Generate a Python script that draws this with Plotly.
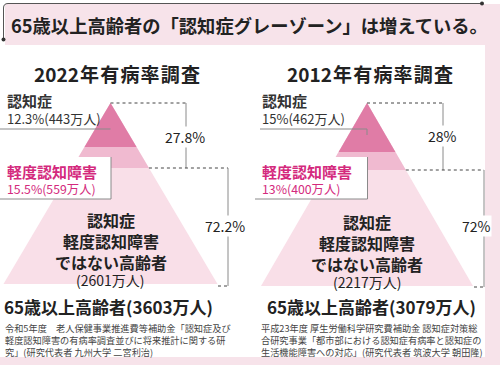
import plotly.graph_objects as go

# ---------------- data ----------------
title_text = "65歳以上高齢者の「認知症グレーゾーン」は増えている。"
survey_years = ["2022", "2012"]
dementia_pct = ["12.3%", "15%"]
dementia_n = [443, 462]
mci_pct = ["15.5%", "13%"]
mci_n = [559, 400]
normal_n = [2601, 2217]
total_n = [3603, 3079]
gray_pct = ["27.8%", "28%"]
normal_pct = ["72.2%", "72%"]
sources = [
    ["令和5年度　老人保健事業推進費等補助金「認知症及び",
     "軽度認知障害の有病率調査並びに将来推計に関する研",
     "究」(研究代表者 九州大学 二宮利治)"],
    ["平成23年度 厚生労働科学研究費補助金 認知症対策総",
     "合研究事業「都市部における認知症有病率と認知症の",
     "生活機能障害への対応」(研究代表者 筑波大学 朝田隆)"],
]

# ---------------- layout constants ----------------
W, H = 500, 365
FONT = "Noto Sans CJK JP"
PINK_BG = "#f7e3ea"
C_DARK = "#e07ca6"
C_MID = "#f0bad0"
C_LIGHT = "#f9dfe8"
MAGENTA = "#d42a7d"
LINE = "#8a8a8a"
HS = "\u200a"

panels = [
    dict(cx=110.5, apex=103, b1=147, b2=168, base=284, hw=107, bx=186, bx2=228, lx=5,
         head_x=117, tot_x=108, dot2=286, p1y=137, p2x=225, cy=0),
    dict(cx=367, apex=103, b1=152, b2=170, base=286, hw=106, bx=443, bx2=484, lx=260,
         head_x=370, tot_x=371, dot2=287, p1y=136, p2x=476, cy=2),
]

shapes = []
annotations = []

def rect(x0, y0, x1, y1, color):
    shapes.append(dict(type="rect", x0=x0, y0=y0, x1=x1, y1=y1, xref="x", yref="y",
                       fillcolor=color, line=dict(width=0), layer="below"))

def line(x0, y0, x1, y1, color=LINE, dash="solid", width=1):
    shapes.append(dict(type="line", x0=x0, y0=y0, x1=x1, y1=y1, xref="x", yref="y",
                       line=dict(color=color, width=width, dash=dash)))

def text(x, y, s, size, color="#222", xanchor="center", bg=None, bold=False, align="center"):
    a = dict(x=x, y=y, xref="x", yref="y", text=("<b>%s</b>" % s) if bold else s,
             showarrow=False, xanchor=xanchor, yanchor="middle", align=align,
             font=dict(family=FONT, size=size, color=color))
    if bg:
        a["bgcolor"] = bg
        a["borderpad"] = 0
    annotations.append(a)

# backgrounds
rect(5, 4, W, 45, PINK_BG)
rect(485, 45, W, H, PINK_BG)
rect(0, 357, W, H, PINK_BG)

# title frame
shapes.append(dict(type="path", path="M 3.5,39 L 3.5,8 Q 3.5,3.5 8,3.5 L 482,3.5",
                   xref="x", yref="y", line=dict(color="#555", width=1)))
for (dx, dy) in [(3.5, 39.5), (482, 3.5)]:
    shapes.append(dict(type="circle", x0=dx - 2, y0=dy - 2, x1=dx + 2, y1=dy + 2,
                       xref="x", yref="y", fillcolor="#333", line=dict(width=0)))
text(249, 25, title_text, 18.3, "#222", bold=True)

fig = go.Figure()

for i, p in enumerate(panels):
    cx, apex, base, hw = p["cx"], p["apex"], p["base"], p["hw"]
    slope = hw / (base - apex)

    def tri(ybot, color):
        h = (ybot - apex) * slope
        fig.add_trace(go.Scatter(x=[cx, cx + h, cx - h, cx], y=[apex, ybot, ybot, apex],
                                 fill="toself", fillcolor=color, mode="lines",
                                 line=dict(width=0), hoverinfo="skip", showlegend=False))

    tri(base, C_LIGHT)
    tri(p["b2"], C_MID)
    tri(p["b1"], C_DARK)

    # MCI label box (white, covering pyramid)
    bx_r = cx + 0.5
    shapes.append(dict(type="rect", x0=p["lx"] - 5, y0=157, x1=bx_r, y1=199, xref="x", yref="y",
                       fillcolor="white", line=dict(width=0), layer="above"))
    line(p["lx"] - 5, 199, bx_r, 199)
    line(bx_r, 157, bx_r, 199)

    # dementia label underline
    line(p["lx"] - 5 if i == 0 else p["lx"], 129, cx, 129)
    if i == 1:
        line(cx, 129, cx, 135)

    # brackets
    h2 = (p["b2"] - apex) * slope
    line(cx, apex, p["bx"], apex, "#444", "dot")
    line(p["bx"], apex, p["bx"], p["b2"])
    line(cx + h2, p["b2"], p["bx2"], p["b2"], "#444", "dot")
    line(p["bx2"], p["b2"], p["bx2"], p["dot2"])
    line(p["bx2"] - 10, p["dot2"], p["bx2"], p["dot2"], "#444", "dot")

    text(p["bx"] - 1, p["p1y"], gray_pct[i], 14, "#222", bg="white")
    text(p["p2x"], 226, normal_pct[i], 14, "#222", bg="white")

    # headings
    text(p["head_x"], 73, HS.join([survey_years[i]] + list("年有病率調査")), 19, "#222", bold=True)

    # side labels (two lines each)
    text(p["lx"], 108.5,
         "<b><span style='font-size:15px'>認知症</span></b><br>%s(%d万人)" % (dementia_pct[i], dementia_n[i]),
         13, "#333", xanchor="left", align="left")
    text(p["lx"], 179.5,
         "<b><span style='font-size:15px'>軽度認知障害</span></b><br>%s(%d万人)" % (mci_pct[i], mci_n[i]),
         12.3, MAGENTA, xanchor="left", align="left")

    # centre label
    cy = p["cy"]
    text(cx, 240.5 + cy, "認知症<br>軽度認知障害<br>ではない高齢者", 16, "#222", bold=True)
    text(cx, 279.5 + cy, "(%d万人)" % normal_n[i], 14, "#222")

    text(p["tot_x"], 306, "65歳以上高齢者(%d万人)" % total_n[i], 17, "#222", bold=True)

    sx = 3 if i == 0 else 259
    text(sx, 340, "<br>".join(sources[i]), 9.2, "#444", xanchor="left", align="left")

fig.update_layout(
    width=W, height=H, margin=dict(l=0, r=0, t=0, b=0),
    paper_bgcolor="white", plot_bgcolor="rgba(0,0,0,0)",
    xaxis=dict(range=[0, W], visible=False, fixedrange=True),
    yaxis=dict(range=[H, 0], visible=False, fixedrange=True),
    shapes=shapes, annotations=annotations, showlegend=False,
)
fig.write_html("out.html", config={"displayModeBar": False},
               post_script="document.body.style.margin='0';document.body.style.overflow='hidden';")
